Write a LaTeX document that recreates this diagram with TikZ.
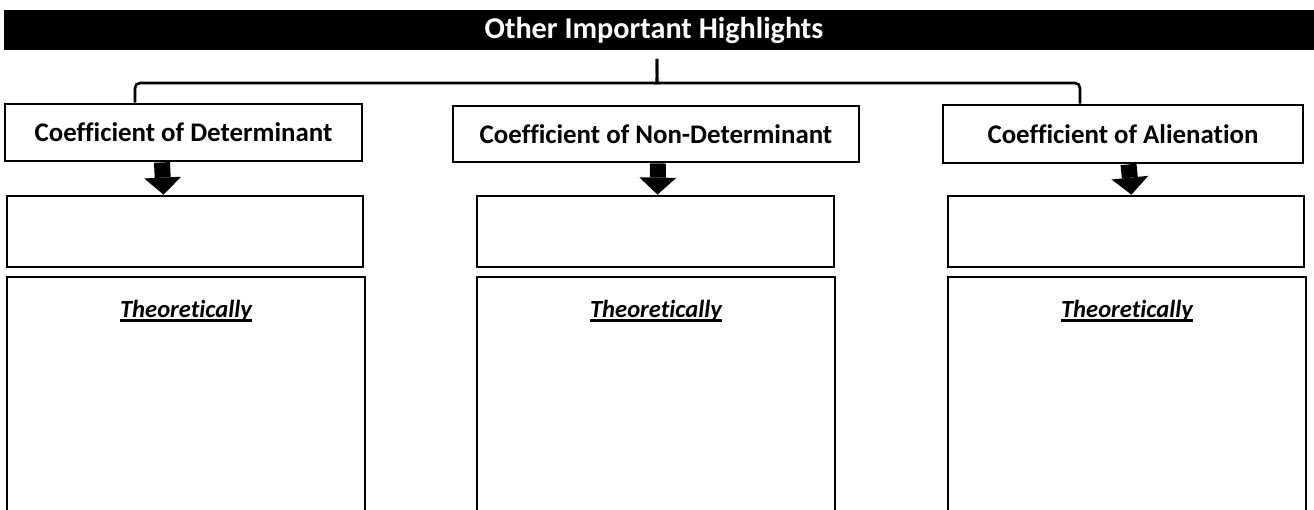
\documentclass[tikz,border=0pt]{standalone}
\usepackage{fontspec}
\setmainfont{Carlito}[Ligatures=NoCommon]
\newcommand{\ulbar}[1]{\setbox0\hbox{#1}\rlap{\raisebox{-2.6pt}{\rule{\wd0}{1.3pt}}}\box0}
\usetikzlibrary{positioning,arrows.meta}

\begin{document}
\begin{tikzpicture}[box/.style={draw,line width=1.6pt,rectangle,inner sep=0pt,
  font=\bfseries\fontsize{15.3}{17}\selectfont},
  bar/.style={fill=black,inner sep=0pt},
  downarrow/.style={line width=0.32cm,-{Triangle[width=0.74cm,length=0.34cm,line width=0pt]}},
  bracket/.style={line width=1.5pt,rounded corners=0.1cm}]
  \useasboundingbox (0,0) rectangle (26.28,-10.2);
  \node[bar,minimum width=26.2cm,minimum height=0.8cm] (head) at (13.18,-0.6) {};
  \node[text=white,font=\bfseries\fontsize{17.2}{19}\selectfont] (title) at (13.08,-0.6)
    {Other Important Highlights};
  \node[box,minimum width=7.14cm,minimum height=1.14cm] (b1) at (3.67,-2.65)
    {Coefficient of Determinant};
  \node[box,minimum width=8.12cm,minimum height=1.12cm] (b2) at (13.12,-2.68)
    {Coefficient of Non-Determinant};
  \node[box,minimum width=7.2cm,minimum height=1.16cm] (b3) at (22.46,-2.68)
    {Coefficient of Alienation};
  \node[box,minimum width=7.12cm,minimum height=1.42cm] (s1) at (3.70,-4.63) {};
  \node[box,minimum width=7.14cm,minimum height=1.42cm] (s2) at (13.11,-4.63) {};
  \node[box,minimum width=7.12cm,minimum height=1.42cm] (s3) at (22.52,-4.63) {};
  % open-ended frames below
  \foreach \n/\x in {1/3.72,2/13.12,3/22.54} {
    \node[box,minimum width=7.16cm,minimum height=4.76cm] (l\n) at (\x,-7.92) {};
    \node[below=0.36cm of l\n.north,font=\bfseries\itshape\fontsize{14}{16}\selectfont]
      (t\n) {\ulbar{Theoretically}};
  }
  \draw[downarrow] ([xshift=-0.43cm]b1.south) -- ([xshift=-0.43cm]s1.north);
  \draw[downarrow] ([xshift=0.04cm]b2.south) -- ([xshift=0.04cm]s2.north);
  \draw[downarrow] ([xshift=0.11cm]b3.south) -- ([xshift=0.11cm]s3.north);
  \coordinate (tip) at (13.14,-1.18);
  \draw[bracket] ([xshift=-0.97cm]b1.north) |- (13.04,-1.66)
    .. controls (13.13,-1.66) .. (13.14,-1.5) -- (tip);
  \draw[bracket] ([xshift=-0.86cm]b3.north) |- (13.24,-1.66)
    .. controls (13.15,-1.66) .. (13.14,-1.5) -- (tip);
\end{tikzpicture}
\end{document}
